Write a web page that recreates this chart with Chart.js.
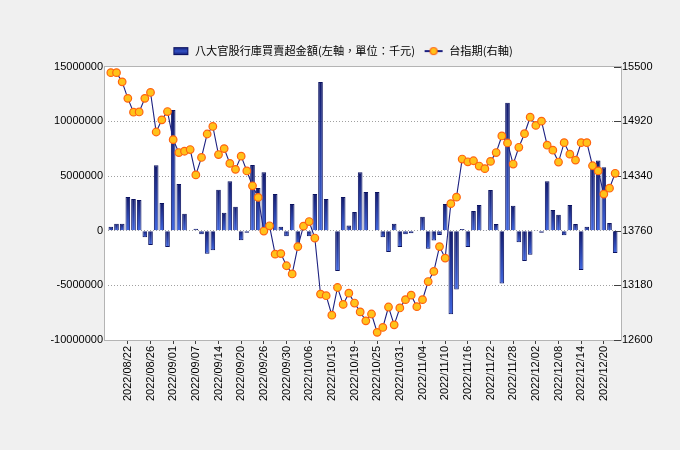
<!DOCTYPE html>
<html>
<head>
<meta charset="utf-8">
<script src="https://cdn.jsdelivr.net/npm/chart.js@4.4.1/dist/chart.umd.min.js"></script>
<style>
  html, body { margin: 0; padding: 0; background: #f0f0f0; }
</style>
</head>
<body>
<canvas id="chart" width="680" height="450"></canvas>
<script>
// trading days, 2022/08/17 - 2022/12/22
const dates = [
  "2022/08/17", "2022/08/18", "2022/08/19", "2022/08/22", "2022/08/23", "2022/08/24", "2022/08/25", "2022/08/26",
  "2022/08/29", "2022/08/30", "2022/08/31",
  "2022/09/01", "2022/09/02", "2022/09/05", "2022/09/06", "2022/09/07", "2022/09/08", "2022/09/12", "2022/09/13",
  "2022/09/14", "2022/09/15", "2022/09/16", "2022/09/19", "2022/09/20", "2022/09/21", "2022/09/22", "2022/09/23",
  "2022/09/26", "2022/09/27", "2022/09/28", "2022/09/29", "2022/09/30",
  "2022/10/03", "2022/10/04", "2022/10/05", "2022/10/06", "2022/10/07", "2022/10/11", "2022/10/12", "2022/10/13",
  "2022/10/14", "2022/10/17", "2022/10/18", "2022/10/19", "2022/10/20", "2022/10/21", "2022/10/24", "2022/10/25",
  "2022/10/26", "2022/10/27", "2022/10/28", "2022/10/31",
  "2022/11/01", "2022/11/02", "2022/11/03", "2022/11/04", "2022/11/07", "2022/11/08", "2022/11/09", "2022/11/10",
  "2022/11/11", "2022/11/14", "2022/11/15", "2022/11/16", "2022/11/17", "2022/11/18", "2022/11/21", "2022/11/22",
  "2022/11/23", "2022/11/24", "2022/11/25", "2022/11/28", "2022/11/29", "2022/11/30",
  "2022/12/01", "2022/12/02", "2022/12/05", "2022/12/06", "2022/12/07", "2022/12/08", "2022/12/09", "2022/12/12",
  "2022/12/13", "2022/12/14", "2022/12/15", "2022/12/16", "2022/12/19", "2022/12/20", "2022/12/21", "2022/12/22"
];

// 八大官股行庫買賣超 (千元)
const netBuy = [
  360000, 630000, 630000, 3080000, 2900000, 2810000, -600000, -1300000,
  5980000, 2540000, -1500000,
  11030000, 4260000, 1540000, -50000, 180000, -330000, -2100000, -1800000,
  3750000, 1630000, 4530000, 2200000, -880000, -180000, 6000000, 3900000,
  5350000, 200000, 3350000, 360000, -510000,
  2450000, -1300000, 300000, -510000, 3350000, 13600000, 2900000, -50000,
  -3690000, 3080000, 480000, 1720000, 5350000, 3530000, -50000, 3530000,
  -600000, -1960000, 630000, -1500000,
  -330000, -240000, -50000, 1270000, -1660000, -900000, -400000, 2450000,
  -7640000, -5380000, 150000, -1500000, 1810000, 2360000, 60000, 3720000,
  600000, -4830000, 11700000, 2270000, -1060000, -2780000,
  -2200000, 60000, -200000, 4530000, 1900000, 1450000, -420000, 2360000,
  600000, -3600000, 360000, 5980000, 6430000, 5800000, 700000, -2050000
];

// 台指期
const taiex = [
  15437, 15437, 15339, 15164, 15017, 15020, 15164, 15227,
  14807, 14936, 15024,
  14726, 14589, 14603, 14621, 14352, 14537, 14786, 14866,
  14568, 14631, 14474, 14411, 14551, 14394, 14236, 14113,
  13756, 13812, 13511, 13517, 13388,
  13301, 13591, 13808, 13857, 13682, 13087, 13070, 12863,
  13157, 12978, 13097, 12992, 12898, 12803, 12876, 12681,
  12733, 12950, 12761, 12940,
  13028, 13076, 12954, 13028, 13220, 13328, 13591, 13469,
  14047, 14116, 14520, 14491, 14502, 14446, 14418, 14495,
  14589, 14765, 14691, 14467, 14645, 14789,
  14964, 14877, 14922, 14667, 14614, 14488, 14694, 14572,
  14509, 14694, 14694, 14449, 14394, 14148, 14211, 14369
];

const leftMin = -10000000, leftMax = 15000000, leftStep = 5000000;
const rightMin = 12600, rightMax = 15500, rightStep = 580;

const tickFont = { family: "'Liberation Sans', Arial, sans-serif", size: 11 };

function barFill(c) {
  const ch = c.chart, y = ch.scales.y;
  if (!y || typeof c.raw !== "number") return "#23329a";
  const top = y.getPixelForValue(Math.max(c.raw, 0));
  const bot = y.getPixelForValue(Math.min(c.raw, 0));
  if (bot - top < 1) return "#1a2380";
  const g = ch.ctx.createLinearGradient(0, top, 0, bot);
  g.addColorStop(0, "#121a6c");
  g.addColorStop(1, "#3f66e0");
  return g;
}

function makeIcon(draw) {
  const c = document.createElement("canvas");
  c.width = 22; c.height = 12;
  draw(c.getContext("2d"));
  return c;
}
const barIcon = makeIcon(g => {
  const gr = g.createLinearGradient(0, 2, 0, 10);
  gr.addColorStop(0, "#121a6c");
  gr.addColorStop(0.5, "#3352c8");
  gr.addColorStop(1, "#121a6c");
  g.fillStyle = gr;
  g.fillRect(6, 2, 15, 8);
  g.strokeStyle = "#0b1260";
  g.strokeRect(6.5, 2.5, 14, 7);
});
const lineIcon = makeIcon(g => {
  g.strokeStyle = "#1c2080";
  g.lineWidth = 2;
  g.beginPath(); g.moveTo(3, 6); g.lineTo(21, 6); g.stroke();
  g.beginPath(); g.arc(12, 6, 3.5, 0, Math.PI * 2);
  g.fillStyle = "#ffc21a"; g.fill();
  g.lineWidth = 1.2; g.strokeStyle = "#ff6410"; g.stroke();
});

// plot background, frame and inward ticks of the right axis
const frame = {
  id: "frame",
  beforeDraw(chart) {
    const { ctx, chartArea: a } = chart;
    ctx.save();
    ctx.fillStyle = "#f0f0f0";
    ctx.fillRect(0, 0, chart.width, chart.height);
    ctx.fillStyle = "#ffffff";
    ctx.fillRect(a.left - 3, a.top, a.right - a.left + 6, a.bottom - a.top);
    ctx.restore();
  },
  beforeDatasetsDraw(chart) {
    const { ctx, chartArea: a, scales } = chart;
    ctx.save();
    ctx.lineWidth = 1;
    ctx.strokeStyle = "#b4b4b4";
    ctx.strokeRect(Math.round(a.left - 3) - 0.5, Math.round(a.top) - 0.5,
      Math.round(a.right - a.left + 6) + 1, Math.round(a.bottom - a.top) + 1);
    ctx.strokeStyle = "#404040";
    scales.y1.ticks.forEach((t, i) => {
      const y = Math.round(scales.y1.getPixelForTick(i)) + 0.5;
      ctx.beginPath();
      ctx.moveTo(a.right + 3 - 7, y);
      ctx.lineTo(a.right + 3, y);
      ctx.stroke();
    });
    ctx.restore();
  }
};

new Chart(document.getElementById("chart"), {
  data: {
    labels: dates,
    datasets: [
      {
        type: "line",
        label: "台指期(右軸)",
        data: taiex,
        yAxisID: "y1",
        borderColor: "#1c2080",
        borderWidth: 1.1,
        pointRadius: 3.8,
        pointBackgroundColor: "#ffc21a",
        pointBorderColor: "#ff6410",
        pointBorderWidth: 1.2,
        tension: 0,
        order: 1
      },
      {
        type: "bar",
        label: "八大官股行庫買賣超金額(左軸，單位：千元)",
        data: netBuy,
        yAxisID: "y",
        backgroundColor: barFill,
        borderColor: "#0b1260",
        borderWidth: 1,
        barPercentage: 0.82,
        categoryPercentage: 1,
        order: 2
      }
    ]
  },
  options: {
    responsive: false,
    animation: false,
    layout: { padding: { top: 39, left: 0, right: 0, bottom: 0 } },
    plugins: {
      tooltip: { enabled: false },
      legend: {
        position: "top",
        labels: {
          usePointStyle: true,
          pointStyleWidth: 22,
          boxHeight: 11,
          padding: 6.5,
          color: "#000",
          font: { family: "'Noto Sans CJK TC', sans-serif", size: 11.2 },
          generateLabels: chart => [
            { text: chart.data.datasets[1].label, pointStyle: barIcon, datasetIndex: 1,
              fillStyle: "transparent", strokeStyle: "transparent", lineWidth: 0, fontColor: "#000", hidden: false },
            { text: chart.data.datasets[0].label, pointStyle: lineIcon, datasetIndex: 0,
              fillStyle: "transparent", strokeStyle: "transparent", lineWidth: 0, fontColor: "#000", hidden: false }
          ]
        }
      }
    },
    scales: {
      x: {
        offset: true,
        grid: { drawOnChartArea: false, offset: false, tickLength: 4, tickColor: "#404040" },
        border: { display: false },
        ticks: {
          autoSkip: false, minRotation: 90, maxRotation: 90, padding: 2,
          color: "#000", font: tickFont,
          callback: (v, i) => ((i - 3) % 4 === 0 ? dates[i] : null)
        },
        afterFit: s => { s.height = 110; }
      },
      y: {
        position: "left",
        min: leftMin, max: leftMax,
        ticks: { stepSize: leftStep, padding: 5, color: "#000", font: tickFont, callback: v => String(v) },
        grid: { color: "#a0a0a0", drawTicks: false },
        border: { display: false, dash: [1, 2] },
        afterFit: s => { s.width = 108; }
      },
      y1: {
        position: "right",
        min: rightMin, max: rightMax,
        ticks: { stepSize: rightStep, padding: 4, color: "#000", font: tickFont, callback: v => String(v) },
        grid: { drawOnChartArea: false, drawTicks: false },
        border: { display: false },
        afterFit: s => { s.width = 62; }
      }
    }
  },
  plugins: [frame]
});
</script>
</body>
</html>
